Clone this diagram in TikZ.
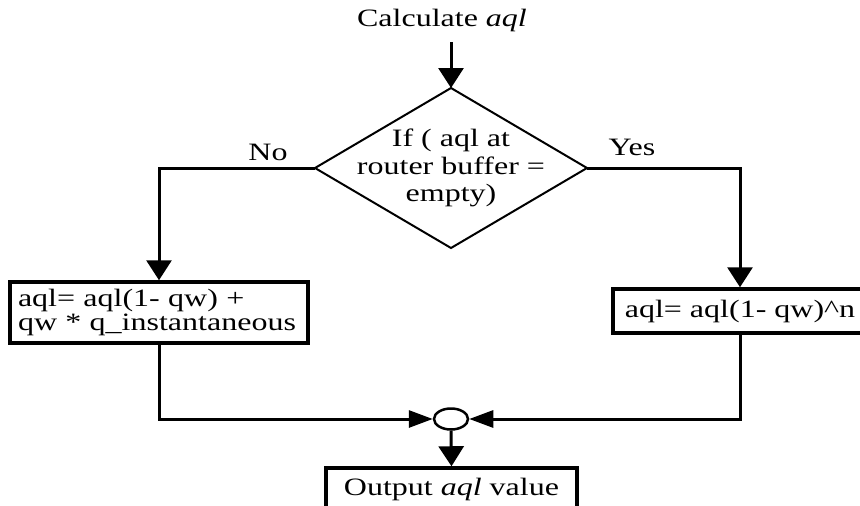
\documentclass[tikz,border=0pt]{standalone}
\usepackage{fontspec}
\setmainfont{Liberation Serif}[FakeStretch=1.28]
\usetikzlibrary{arrows.meta,shapes.geometric}
\begin{document}
\begin{tikzpicture}[x=1pt,y=-1pt,
  txt/.style={font=\fontsize{25}{27.5}\selectfont, inner sep=0pt},
  conn/.style={line width=3pt},
  arr/.style={conn,-{Triangle[length=20pt,width=25pt]}},
  sarr/.style={conn,-{Triangle[length=24pt,width=17pt]}},
  box/.style={draw,line width=3.5pt,inner sep=0pt,font=\fontsize{25}{24}\selectfont},
]
\useasboundingbox (0,0) rectangle (860,506);
\clip (0,0) rectangle (860,506);
\fill[white] (0,0) rectangle (860,506);

\node[txt] (calc) at (442,20) {Calculate \textit{aql}};
\coordinate (cs) at (451,42);
\coordinate (dt) at (451,88);
\coordinate (dl) at (315,168);
\coordinate (dr) at (587,168);
\coordinate (db) at (451,248);
\draw[line width=2pt,line join=miter] (dt) -- (dr) -- (db) -- (dl) -- cycle;
\node[txt,align=center] (cond) at (451,168) {If ( aql at\\router buffer =\\empty)};

\node[box,align=left,text width=282pt,inner xsep=8pt,minimum height=61pt] (lbox) at (159,312.5)
  {aql= aql(1- qw) +\\qw * q\_instantaneous};
\node[box,minimum width=254pt,minimum height=44pt] (rbox) at (740,311)
  {aql= aql(1- qw)\textasciicircum n};
\node[draw,ellipse,line width=2.5pt,minimum width=34pt,minimum height=21pt,inner sep=0pt] (circ) at (451,419) {};
\node[box,minimum width=251pt,minimum height=42pt] (obox) at (451.5,489)
  {Output \textit{aql} value};

\node[txt] (no) at (268,152) {No};
\node[txt] (yes) at (632,147) {Yes};

\draw[arr] (cs) -- (dt);
\draw[arr] (dl) -| (lbox.north);
\draw[arr] (dr) -| (rbox.north);
\draw[sarr] (lbox.south) |- (circ.west);
\draw[sarr] (rbox.south) |- (circ.east);
\draw[arr] (circ.south) -- (obox.north);
\end{tikzpicture}
\end{document}
